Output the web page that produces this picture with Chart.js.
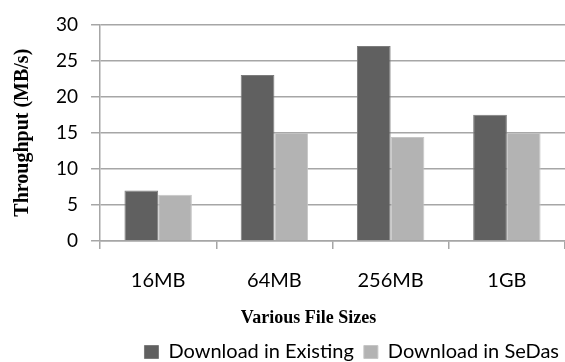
<!DOCTYPE html>
<html>
<head>
<meta charset="utf-8">
<script src="https://cdn.jsdelivr.net/npm/chart.js@4.4.0/dist/chart.umd.min.js"></script>
<style>
html,body{margin:0;padding:0;background:#fff;}
#wrap{width:565px;height:362px;position:relative;}
</style>
</head>
<body>
<div id="wrap"><canvas id="c" width="565" height="362"></canvas></div>
<script>
const categories = ['16MB', '64MB', '256MB', '1GB'];
const existingValues = [7.0, 23.0, 27.0, 17.5];
const sedasValues = [6.4, 15.0, 14.4, 15.0];
const seriesNames = ['Download in Existing', 'Download in SeDas'];
const yTicks = [0, 5, 10, 15, 20, 25, 30];
const xTitle = 'Various File Sizes';
const yTitle = 'Throughput (MB/s)';

const GRID = '#a6a6a6';

const xTitlePlugin = {
  id: 'xTitlePlugin',
  afterDraw(chart) {
    const sx = chart.scales.x;
    const ctx = chart.ctx;
    ctx.save();
    ctx.font = 'bold 18px "Liberation Serif", "Times New Roman", serif';
    ctx.fillStyle = '#000';
    ctx.textAlign = 'center';
    ctx.textBaseline = 'middle';
    const cx = (chart.chartArea.left + chart.chartArea.right) / 2 - 24;
    ctx.fillText(xTitle, cx, sx.bottom - 14);
    ctx.restore();
  }
};

new Chart(document.getElementById('c'), {
  type: 'bar',
  data: {
    labels: categories,
    datasets: [
      { label: seriesNames[0], data: existingValues, backgroundColor: '#606060', borderColor: '#7c7c7c', borderWidth: 1, borderSkipped: 'bottom' },
      { label: seriesNames[1], data: sedasValues, backgroundColor: '#b3b3b3', borderColor: '#c6c6c6', borderWidth: 1, borderSkipped: 'bottom' }
    ]
  },
  options: {
    responsive: false,
    animation: false,
    devicePixelRatio: 1,
    layout: { padding: { left: 11, right: -4, top: 23, bottom: -10 } },
    datasets: { bar: { categoryPercentage: 0.58, barPercentage: 1.0 } },
    scales: {
      x: {
        grid: { display: true, drawOnChartArea: false, drawTicks: true, tickLength: 8, color: GRID, lineWidth: 1.5, offset: true },
        border: { display: true, color: GRID, width: 1.5 },
        ticks: { color: '#000', font: { family: 'Lato', size: 20 }, padding: 20 },
        title: { display: true, text: xTitle, color: 'rgba(0,0,0,0)', font: { family: 'Liberation Serif', size: 17, weight: 'bold', lineHeight: 1.0 }, padding: { top: 2, bottom: 0 } }
      },
      y: {
        min: 0, max: 30,
        afterBuildTicks(scale) { scale.ticks = yTicks.map(v => ({ value: v })); },
        grid: { color: GRID, lineWidth: 1.5, tickLength: 9, drawTicks: true },
        border: { display: true, color: GRID, width: 1.5 },
        ticks: { color: '#000', font: { family: 'Lato', size: 19 }, padding: 13 },
        title: { display: true, text: yTitle, color: '#000', font: { family: 'Liberation Serif', size: 20, weight: 'bold' }, padding: { top: 0, bottom: 8 } }
      }
    },
    plugins: {
      legend: {
        position: 'bottom',
        align: 'end',
        labels: { color: '#000', font: { family: 'Lato', size: 20 }, boxWidth: 14, boxHeight: 13, padding: 10 }
      },
      tooltip: { enabled: false }
    }
  },
  plugins: [xTitlePlugin]
});
</script>
</body>
</html>
